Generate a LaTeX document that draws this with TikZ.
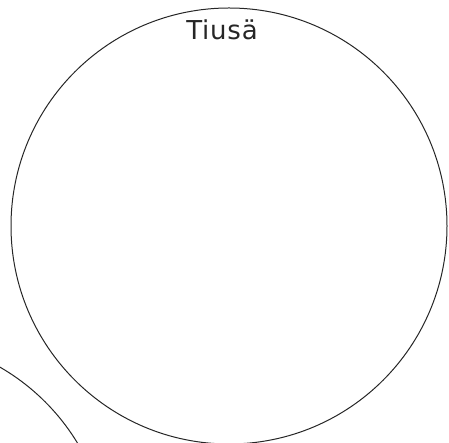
\documentclass[tikz,border=0pt]{standalone}
\usepackage{fontspec}
\newfontfamily\labelfont[LetterSpace=3]{DejaVu Sans}
\begin{document}
\begin{tikzpicture}[x=1pt,y=1pt]
\useasboundingbox (0,0) rectangle (449,443);
\clip (0,0) rectangle (449,443);

\node[draw=black!85, line width=1pt, circle, minimum size=436pt, inner sep=0pt] (tiusa) at (229,217) {};
\node[draw=black!85, line width=1pt, circle, minimum size=436pt, inner sep=0pt] (other) at (-109,-113) {};

\node[anchor=base, inner sep=0pt, font=\labelfont\fontsize{26}{30}\selectfont, text=black!85] (t) at (222,403) {Tiusä};
\end{tikzpicture}
\end{document}
